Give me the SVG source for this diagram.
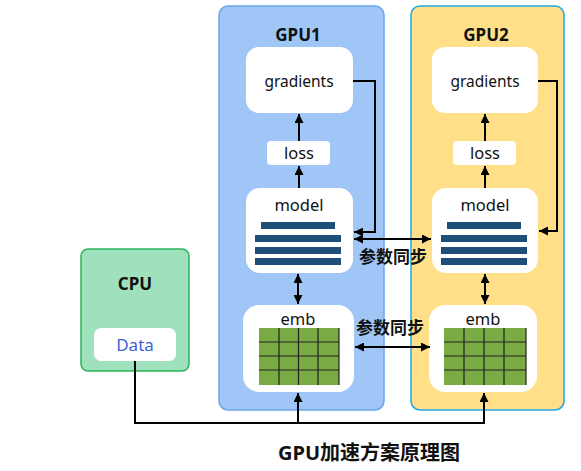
<svg xmlns="http://www.w3.org/2000/svg" width="581" height="471" viewBox="0 0 581 471">
<defs>
<marker id="ah" viewBox="0 0 10 10" refX="10" refY="5" markerWidth="9" markerHeight="9" markerUnits="userSpaceOnUse" orient="auto-start-reverse">
<path d="M0,0 L10,5 L0,10 z" fill="#000"/>
</marker>
<g id="bars">
<rect x="15" y="0" width="74" height="7"/>
<rect x="9" y="13" width="86" height="7"/>
<rect x="9" y="25" width="86" height="7"/>
<rect x="9" y="36" width="86" height="7"/>
</g>
</defs>
<style>
text{font-family:"Noto Sans","Noto Sans CJK SC",sans-serif;text-anchor:middle;fill:#111}
.t{font-weight:bold;font-size:17px}
.l{font-size:16.5px}
.g{font-size:15.5px}
.s{font-weight:bold;font-size:17px;font-family:"Noto Sans CJK SC",sans-serif}
.w{fill:#fff}
.bar{fill:#1f4e79}
.grid{fill:#79aa44}
.gl{stroke:#222;stroke-width:1.2;fill:none}
.c{stroke:#000;stroke-width:2;fill:none}
.a{marker-end:url(#ah)}
.d{marker-start:url(#ah);marker-end:url(#ah)}
</style>
<rect width="581" height="471" fill="#fff"/>

<g id="gpu1">
<rect x="219" y="6" width="165" height="404" rx="9" fill="#9fc6f6" stroke="#6aa6ee" stroke-width="1.5"/>
<text class="t" x="298" y="41">GPU1</text>
</g>
<g id="gpu2">
<rect x="411" y="6" width="153" height="404" rx="9" fill="#ffdf88" stroke="#1ea9e4" stroke-width="1.5"/>
<text class="t" x="486" y="41">GPU2</text>
</g>
<g id="cpu">
<rect x="81" y="249" width="108" height="122" rx="7" fill="#9fe1bc" stroke="#2bb45a" stroke-width="1.5"/>
<text class="t" x="135" y="290">CPU</text>
</g>
<g id="data">
<rect x="94" y="328" width="82" height="33" rx="7" class="w"/>
<text x="135" y="351" style="font-size:17px;fill:#3b62d6">Data</text>
</g>

<g id="gradients1">
<rect x="246" y="47" width="107" height="66" rx="13" class="w"/>
<text class="g" x="299" y="87">gradients</text>
</g>
<g id="loss1">
<rect x="267" y="141" width="63" height="24" rx="4" class="w"/>
<text class="l" x="299" y="159">loss</text>
</g>
<g id="model1">
<rect x="246" y="188" width="107" height="85" rx="14" class="w"/>
<text class="l" x="299" y="211">model</text>
<use href="#bars" x="246" y="222" class="bar"/>
</g>
<g id="emb1">
<rect x="243" y="305" width="111" height="87" rx="16" class="w"/>
<text class="l" x="298" y="325">emb</text>
<rect x="259" y="328" width="80" height="57" class="grid"/>
<path class="gl" d="M279,328V385M298.5,328V385M318,328V385M339,328V385M259,342H339M259,356H339M259,370H339"/>
</g>

<g id="gradients2">
<rect x="432" y="47" width="106" height="66" rx="13" class="w"/>
<text class="g" x="485" y="87">gradients</text>
</g>
<g id="loss2">
<rect x="453" y="141" width="63" height="24" rx="4" class="w"/>
<text class="l" x="485" y="159">loss</text>
</g>
<g id="model2">
<rect x="432" y="188" width="106" height="85" rx="14" class="w"/>
<text class="l" x="485" y="211">model</text>
<use href="#bars" x="432" y="222" class="bar"/>
</g>
<g id="emb2">
<rect x="429" y="305" width="108" height="87" rx="16" class="w"/>
<text class="l" x="483" y="325">emb</text>
<rect x="444" y="328" width="82" height="57" class="grid"/>
<path class="gl" d="M464,328V385M484,328V385M504,328V385M526,328V385M444,342H526M444,356H526M444,370H526"/>
</g>

<g id="connectors">
<path class="c a" d="M299,141V114"/>
<path class="c a" d="M299,188V166"/>
<path class="c d" d="M298,274V304"/>
<path class="c a" d="M485,141V114"/>
<path class="c a" d="M485,188V166"/>
<path class="c d" d="M485,274V304"/>
<path class="c a" d="M353,81H375V232H354"/>
<path class="c a" d="M538,81H557V231H539"/>
<path class="c d" d="M354,239H431"/>
<path class="c d" d="M355,347H430"/>
<path class="c a" d="M135,361V423H298V393"/>
<path class="c a" d="M298,423H484V393"/>
<text class="s" x="393" y="263">参数同步</text>
<text class="s" x="390" y="334">参数同步</text>
</g>

<text x="369" y="460" style="font-weight:bold;font-size:20px;font-family:'Noto Sans','Noto Sans CJK SC',sans-serif">GPU加速方案原理图</text>
</svg>
